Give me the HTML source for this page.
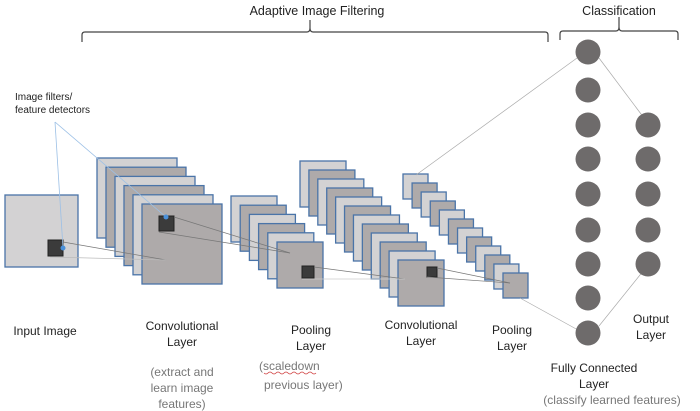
<!DOCTYPE html>
<html><head><meta charset="utf-8"><style>
html,body{margin:0;padding:0;background:#fff;}
svg{display:block;font-family:"Liberation Sans",sans-serif;}
</style></head><body>
<svg id="s" width="700" height="411" viewBox="0 0 700 411" xmlns="http://www.w3.org/2000/svg">
<g fill="none" stroke="#444" stroke-width="1.2">
<path d="M82,42 L82,35 Q82,32 85,32 L307,32 Q310,32 310,28 L310,20 M310,28 Q310,32 313,32 L545,32 Q548,32 548,35 L548,42"/>
<path d="M560,40 L560,34 Q560,31 563,31 L616,31 Q619,31 619,27 L619,17 M619,27 Q619,31 622,31 L675,31 Q678,31 678,34 L678,40"/>
</g>
<text x="317" y="15" font-size="12.5" text-anchor="middle" fill="#222">Adaptive Image Filtering</text>
<text x="619" y="15" font-size="12.5" text-anchor="middle" fill="#222">Classification</text>
<text x="15" y="100" font-size="10" fill="#222">Image filters/</text>
<text x="15" y="113" font-size="10" fill="#222">feature detectors</text>
<rect x="5" y="195" width="73" height="72" fill="#d3d2d3" stroke="#4a74a8" stroke-width="1.3"/>
<rect x="48" y="240" width="15" height="16" fill="#3b3b3b" stroke="#222"/>
<g id="stacks"></g>
<g stroke="#777" stroke-width="0.7" fill="none">
<line x1="63" y1="242" x2="166" y2="260"/><line x1="50" y1="257" x2="166" y2="260" stroke="#bbb"/>
<line x1="174" y1="217" x2="290" y2="253"/><line x1="159" y1="232" x2="290" y2="253"/>
<line x1="314" y1="267" x2="405" y2="279"/><line x1="302" y1="279" x2="405" y2="279" stroke="#ccc"/>
<line x1="437" y1="268" x2="510" y2="283"/><line x1="427" y1="277" x2="510" y2="283"/>
<line x1="416" y1="175" x2="577" y2="58" stroke="#aaa"/>
<line x1="520" y1="298" x2="578" y2="330" stroke="#aaa"/>
<line x1="599" y1="58" x2="644" y2="118" stroke="#aaa"/>
<line x1="599" y1="326" x2="644" y2="270" stroke="#aaa"/>
</g>
<g stroke="#9cc0e6" stroke-width="0.8"><line x1="55" y1="122" x2="63" y2="248"/><line x1="55" y1="122" x2="166" y2="217"/></g>
<circle cx="63" cy="248" r="2.5" fill="#4a90d9"/>
<circle cx="166" cy="217" r="2.5" fill="#4a90d9"/>
<g fill="#6e6b6b">
<circle cx="588" cy="52" r="12.5"/><circle cx="588" cy="90" r="12.5"/><circle cx="588" cy="125" r="12.5"/>
<circle cx="588" cy="159" r="12.5"/><circle cx="588" cy="194" r="12.5"/><circle cx="588" cy="230" r="12.5"/>
<circle cx="588" cy="264" r="12.5"/><circle cx="588" cy="298" r="12.5"/><circle cx="588" cy="333" r="12.5"/>
<circle cx="648" cy="125" r="12.5"/><circle cx="648" cy="159" r="12.5"/><circle cx="648" cy="194" r="12.5"/>
<circle cx="648" cy="230" r="12.5"/><circle cx="648" cy="264" r="12.5"/>
</g>
<g font-size="12" fill="#222" text-anchor="middle">
<text x="45" y="335">Input Image</text>
<text x="182" y="330">Convolutional</text><text x="182" y="346">Layer</text>
<text x="311" y="334">Pooling</text><text x="311" y="350">Layer</text>
<text x="421" y="329">Convolutional</text><text x="421" y="345">Layer</text>
<text x="512" y="334">Pooling</text><text x="512" y="350">Layer</text>
<text x="651" y="323">Output</text><text x="651" y="339">Layer</text>
<text x="594" y="372">Fully Connected</text><text x="594" y="388">Layer</text>
</g>
<g font-size="12" fill="#777">
<text x="182" y="376" text-anchor="middle">(extract and</text><text x="182" y="392" text-anchor="middle">learn image</text><text x="182" y="408" text-anchor="middle">features)</text>
<text x="259" y="370">(scaledown</text><text x="264" y="389">previous layer)</text>
<text x="612" y="404" text-anchor="middle">(classify learned features)</text>
</g>
<path d="M264,373 q2,2 4,0 q2,-2 4,0 q2,2 4,0 q2,-2 4,0 q2,2 4,0 q2,-2 4,0 q2,2 4,0 q2,-2 4,0 q2,2 4,0 q2,-2 4,0 q2,2 4,0 q2,-2 4,0 q2,2 4,0" fill="none" stroke="#d04040" stroke-width="0.8"/>
</svg>
<script>
var ns="http://www.w3.org/2000/svg",g=document.getElementById("stacks");
function stack(n,x0,y0,x1,y1,sz){for(var i=0;i<n;i++){var r=document.createElementNS(ns,"rect");
var t=n==1?0:i/(n-1);r.setAttribute("x",x0+(x1-x0)*t);r.setAttribute("y",y0+(y1-y0)*t);
r.setAttribute("width",sz);r.setAttribute("height",sz);
r.setAttribute("fill",((n-1-i)%2==0)?"#aeaaaa":"#d3d2d3");r.setAttribute("stroke","#4a74a8");r.setAttribute("stroke-width","1.3");g.appendChild(r);}}
stack(6,97,158,142,204,80);
stack(6,231,196,277,242,46);
stack(12,300,161,398,260,46);
stack(12,403,174,503,273,25);
function dk(x,y,w){var r=document.createElementNS(ns,"rect");r.setAttribute("x",x);r.setAttribute("y",y);r.setAttribute("width",w);r.setAttribute("height",w);r.setAttribute("fill","#3b3b3b");r.setAttribute("stroke","#222");g.appendChild(r);}
dk(159,216,15);dk(302,266,12);dk(427,267,10);
</script>
</body></html>
